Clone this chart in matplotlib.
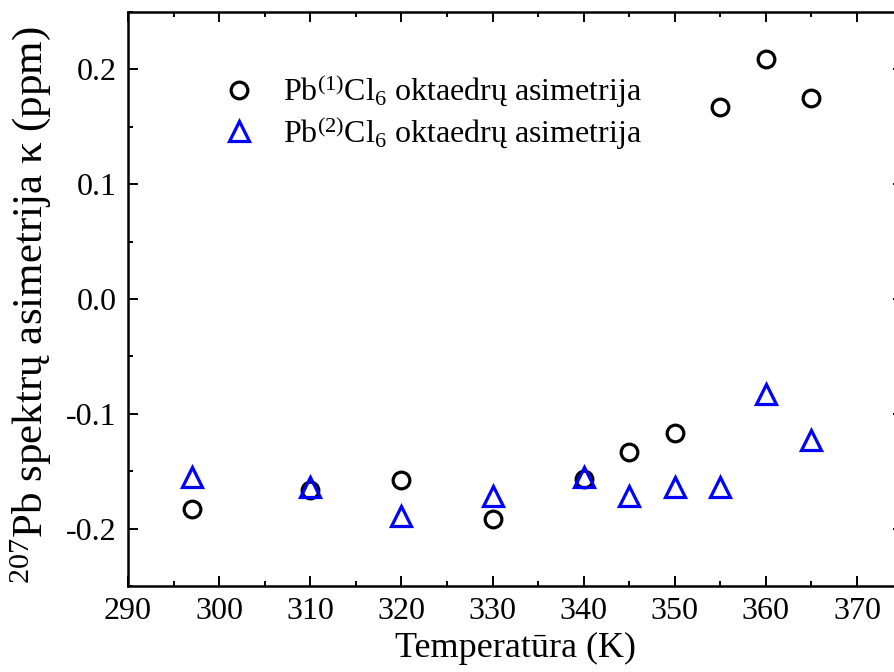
import numpy as np
import matplotlib
matplotlib.use("Agg")
import matplotlib.pyplot as plt
from matplotlib.ticker import MultipleLocator

plt.rcParams.update({
    "font.family": "Liberation Serif",
    "mathtext.fontset": "custom",
    "mathtext.rm": "Liberation Serif",
    "mathtext.it": "Liberation Serif:italic",
    "axes.unicode_minus": False,
})

# temperatūros (K)
temp = [297, 310, 320, 330, 340, 345, 350, 355, 360, 365]
# Pb(1)Cl6 asimetrija (ppm)
kappa_1 = [-0.183, -0.166, -0.158, -0.192, -0.157, -0.133, -0.117, 0.167, 0.209, 0.175]
# Pb(2)Cl6 asimetrija (ppm)
kappa_2 = [-0.155, -0.164, -0.189, -0.172, -0.155, -0.172, -0.164, -0.164, -0.083, -0.123]

fig = plt.figure(figsize=(8.95, 6.72), dpi=100)
ax = fig.add_axes([0.143, 0.128, 0.8655, 0.854])

ax.plot(temp, kappa_1, "o", ls="none", ms=12, mfc="none", mec="black", mew=2.3,
        label=r"Pb$^{(1)}$Cl$_6$ oktaedrų asimetrija")
ax.plot(temp, kappa_2, "^", ls="none", ms=14, mfc="none", mec="#0000ff", mew=2.3,
        label=r"Pb$^{(2)}$Cl$_6$ oktaedrų asimetrija")

ax.set_xlim(290, 375)
ax.set_ylim(-0.25, 0.25)
ax.xaxis.set_major_locator(MultipleLocator(10))
ax.xaxis.set_minor_locator(MultipleLocator(5))
ax.yaxis.set_major_locator(MultipleLocator(0.1))
ax.yaxis.set_minor_locator(MultipleLocator(0.05))
ax.yaxis.set_major_formatter(matplotlib.ticker.FormatStrFormatter("%.1f"))

for s in ax.spines.values():
    s.set_linewidth(1.8)
ax.tick_params(which="both", direction="in", top=True, right=True, width=1.4,
               labelsize=23, pad=8)
ax.tick_params(which="major", length=7.5)
ax.tick_params(which="minor", length=3.8)

ax.set_xlabel("Temperatūra (K)", fontsize=26, labelpad=4)
ax.set_ylabel(r"$^{207}$Pb spektrų asimetrija κ (ppm)", fontsize=31, labelpad=4)
ax.yaxis.set_label_coords(-0.097, 0.49)

ax.legend(loc="upper left", bbox_to_anchor=(0.085, 0.917), frameon=False,
          fontsize=23, handletextpad=0.4, labelspacing=0.12, borderaxespad=0)

fig.savefig("out.png", dpi=100)
